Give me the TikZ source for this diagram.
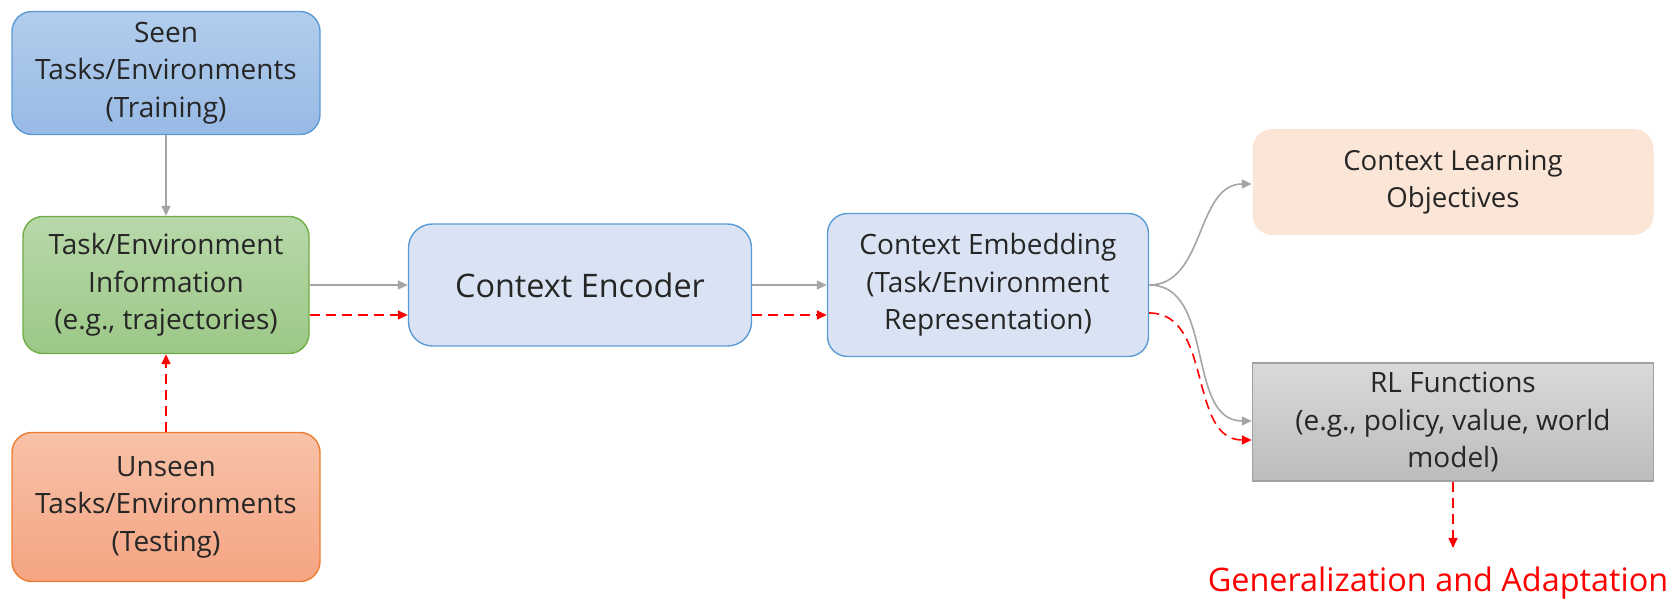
\documentclass[tikz,border=0pt]{standalone}
\usepackage{fontspec}
\setmainfont{Open Sans}
\usetikzlibrary{arrows.meta}

\definecolor{seentop}{HTML}{B2CDEC}
\definecolor{seenbot}{HTML}{98BAE5}
\definecolor{seenline}{HTML}{5B9BD5}
\definecolor{infotop}{HTML}{B8D8AA}
\definecolor{infobot}{HTML}{9CC886}
\definecolor{infoline}{HTML}{70AD47}
\definecolor{unseentop}{HTML}{F8C2A8}
\definecolor{unseenbot}{HTML}{F4A482}
\definecolor{unseenline}{HTML}{ED7D31}
\definecolor{encfill}{HTML}{DAE3F3}
\definecolor{objfill}{HTML}{FBE5D6}
\definecolor{rltop}{HTML}{D9D9D9}
\definecolor{rlbot}{HTML}{BCBCBC}
\definecolor{rlline}{HTML}{A0A0A0}
\definecolor{arrowgray}{HTML}{A5A5A5}
\definecolor{textgray}{HTML}{262626}

\begin{document}
\begin{tikzpicture}[x=0.5pt,y=-0.5pt,
  box/.style={draw, line width=0.7pt, rounded corners=10pt, align=center,
    inner sep=0pt, text=textgray, font=\fontsize{14}{18.7}\selectfont},
  grayarrow/.style={draw=arrowgray, line width=0.8pt,
    -{Triangle[length=5pt,width=4.5pt]}},
  redarrow/.style={draw=red, line width=0.8pt, dash pattern=on 5pt off 3pt,
    -{Triangle[length=5pt,width=4.5pt]}}]
\useasboundingbox (0,0) rectangle (1678,608);

% left column
\node[box, draw=seenline, top color=seentop, bottom color=seenbot,
  minimum width=154pt, minimum height=61.5pt] (seen) at (166,73)
  {Seen\\Tasks/Environments\\(Training)};
\node[box, draw=infoline, top color=infotop, bottom color=infobot,
  minimum width=143pt, minimum height=68.5pt] (info) at (166,285)
  {Task/Environment\\Information\\(e.g., trajectories)};
\node[box, draw=unseenline, top color=unseentop, bottom color=unseenbot,
  minimum width=154pt, minimum height=74.5pt] (unseen) at (166,507)
  {Unseen\\Tasks/Environments\\(Testing)};

% middle
\node[box, draw=seenline, fill=encfill, rounded corners=12pt,
  minimum width=171.5pt, minimum height=61pt, font=\fontsize{16.2}{20}\selectfont]
  (encoder) at (580,285) {Context Encoder};
\node[box, draw=seenline, fill=encfill,
  minimum width=160.5pt, minimum height=71.5pt] (embed) at (988,285)
  {Context Embedding\\(Task/Environment\\Representation)};

% right column
\node[box, draw=none, fill=objfill, minimum width=200.5pt, minimum height=53pt,
  font=\fontsize{13.8}{18.7}\selectfont]
  (objectives) at (1453,182) {Context Learning\\Objectives};
\node[box, draw=rlline, top color=rltop, bottom color=rlbot, rounded corners=0pt,
  minimum width=200.5pt, minimum height=59pt] (rlfunc) at (1453,422)
  {RL Functions\\(e.g., policy, value, world\\model)};
\node[text=red, font=\fontsize{16.2}{20}\selectfont, inner sep=0pt, anchor=north]
  (genlabel) at (1438,566) {Generalization and Adaptation};

% connectors
\draw[grayarrow] (seen) -- (info);
\draw[redarrow] (unseen) -- (info);
\draw[grayarrow] (info.east) -- (encoder.west);
\draw[redarrow] ([yshift=-15pt]info.east) -- ([yshift=-15pt]encoder.west);
\draw[grayarrow] (encoder.east) -- (embed.west);
\draw[redarrow] ([yshift=-15pt]encoder.east) -- ([yshift=-15pt]embed.west);
\draw[grayarrow] (embed.east) to[out=0,in=180] ([yshift=-1pt]objectives.west);
\draw[grayarrow] (embed.east) to[out=0,in=180] ([yshift=0.5pt]rlfunc.west);
\draw[redarrow] ([yshift=-14pt]embed.east) to[out=0,in=180] ([yshift=-9pt]rlfunc.west);
\draw[redarrow] (rlfunc.south) -- ([yshift=9pt]rlfunc.south |- genlabel.north);
\end{tikzpicture}
\end{document}
